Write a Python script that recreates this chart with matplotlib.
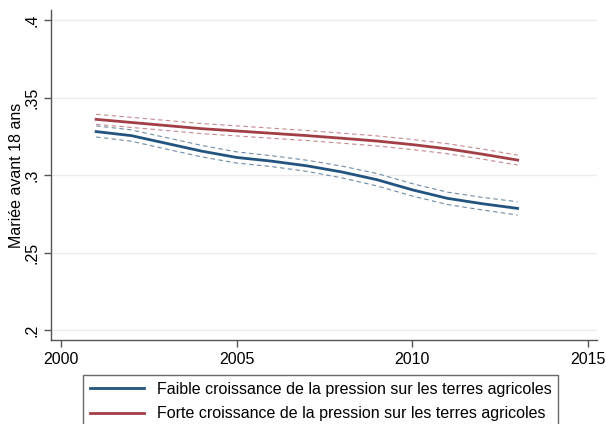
import matplotlib.pyplot as plt

plt.rcParams['font.family'] = ['Liberation Sans', 'DejaVu Sans']

years = [2001, 2002, 2003, 2004, 2005, 2006, 2007, 2008, 2009, 2010, 2011, 2012, 2013]

# Faible croissance (blue)
faible = [0.3281, 0.3255, 0.3205, 0.3155, 0.3114, 0.3090, 0.3060, 0.3020, 0.2970, 0.2905, 0.2850, 0.2815, 0.2785]
faible_hi = [0.3318, 0.3292, 0.3242, 0.3192, 0.3150, 0.3125, 0.3096, 0.3058, 0.3010, 0.2945, 0.2890, 0.2856, 0.2828]
faible_lo = [0.3246, 0.3219, 0.3168, 0.3118, 0.3078, 0.3055, 0.3024, 0.2982, 0.2930, 0.2865, 0.2810, 0.2775, 0.2742]

# Forte croissance (red)
forte = [0.3360, 0.3340, 0.3320, 0.3300, 0.3285, 0.3270, 0.3255, 0.3238, 0.3220, 0.3197, 0.3170, 0.3135, 0.3097]
forte_hi = [0.3393, 0.3373, 0.3353, 0.3333, 0.3318, 0.3303, 0.3288, 0.3271, 0.3253, 0.3230, 0.3203, 0.3168, 0.3129]
forte_lo = [0.3328, 0.3308, 0.3288, 0.3268, 0.3253, 0.3238, 0.3223, 0.3206, 0.3188, 0.3165, 0.3138, 0.3103, 0.3065]

labels = ['Faible croissance de la pression sur les terres agricoles',
          'Forte croissance de la pression sur les terres agricoles']

blue = '#22547f'
red = '#a23e46'

fig = plt.figure(figsize=(6.06, 4.24), dpi=100)
ax = fig.add_axes([0.0842, 0.198, 0.901, 0.778])

# confidence bands (dashed)
ax.plot(years, faible_hi, color='#6f8aa3', lw=0.8, ls=(0, (4, 3)))
ax.plot(years, faible_lo, color='#6f8aa3', lw=0.8, ls=(0, (4, 3)))
ax.plot(years, forte_hi, color='#c48a8f', lw=0.8, ls=(0, (4, 3)))
ax.plot(years, forte_lo, color='#c48a8f', lw=0.8, ls=(0, (4, 3)))

# main lines
l1, = ax.plot(years, faible, color=blue, lw=2.0)
l2, = ax.plot(years, forte, color=red, lw=2.0)

ax.set_xlim(1999.715, 2015.26)
ax.set_ylim(0.1935, 0.4065)
ax.set_xticks([2000, 2005, 2010, 2015])
ax.set_yticks([0.2, 0.25, 0.3, 0.35, 0.4])
ax.set_yticklabels(['.2', '.25', '.3', '.35', '.4'], rotation=90, va='center')
ax.tick_params(labelsize=11.5, length=5, color='#555555', width=1)
ax.grid(axis='y', color='#ececec', lw=1)
ax.set_axisbelow(True)

for s in ['top', 'right']:
    ax.spines[s].set_visible(False)
for s in ['left', 'bottom']:
    ax.spines[s].set_color('#555555')
    ax.spines[s].set_linewidth(1)

ax.set_ylabel('Mariée avant 18 ans', fontsize=11.5)
ax.yaxis.set_label_coords(-0.0495, 0.5)

leg = fig.legend([l1, l2], labels, loc='upper center', bbox_to_anchor=(0.529, 0.134),
                 fontsize=11.5, frameon=True, fancybox=False, edgecolor='#444444',
                 handlelength=3.4, borderpad=0.4, labelspacing=0.6)
leg.get_frame().set_linewidth(1)

fig.savefig('out.png', dpi=100)
